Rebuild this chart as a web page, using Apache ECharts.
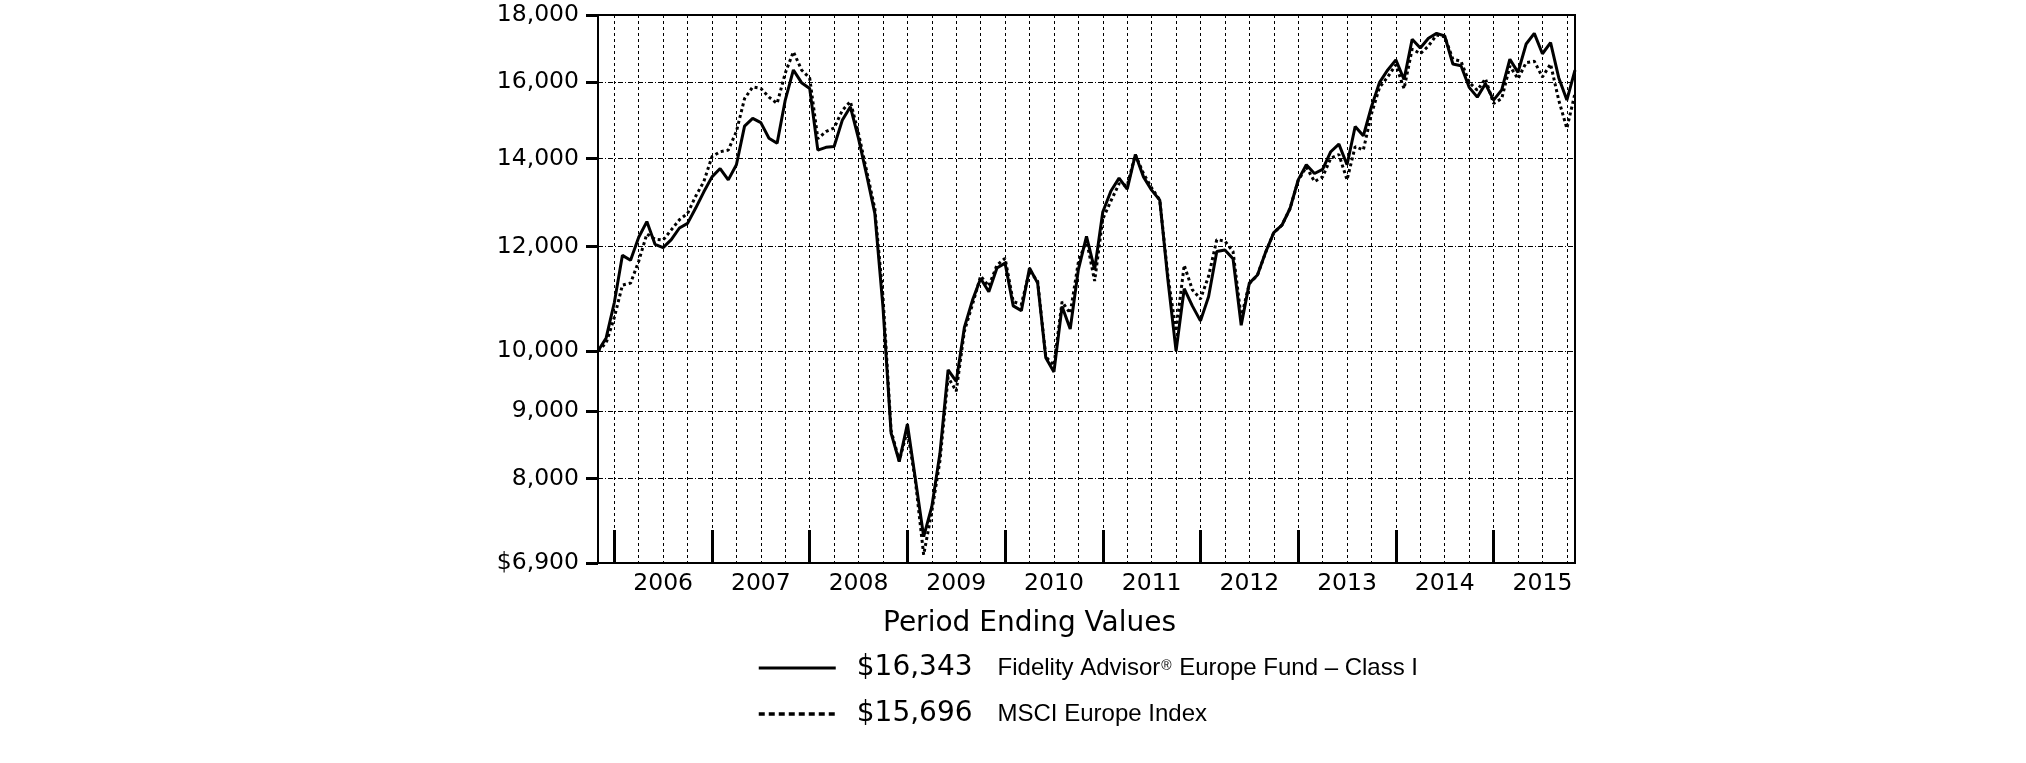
<!DOCTYPE html>
<html>
<head>
<meta charset="utf-8">
<script src="https://cdn.jsdelivr.net/npm/echarts@6/dist/echarts.min.js"></script>
<style>
html,body{margin:0;padding:0;background:#fff;}
#chart{width:2026px;height:763px;}
</style>
</head>
<body>
<div id="chart"></div>
<script>
// ---- DATA ----
// Monthly period ends, Oct 2005 .. Oct 2015 (121 points)
const startYear = 2005;
const startMonth = 10;
const monthCount = 121;
const categories = [];
for (let k = 0; k < monthCount; k++) {
  const m = startMonth - 1 + k;
  categories.push((startYear + Math.floor(m / 12)) + '-' + String(m % 12 + 1).padStart(2, '0'));
}

const fundName = 'Fidelity Advisor® Europe Fund – Class I';
const indexName = 'MSCI Europe Index';

const fundValues = [
  10000, 10230, 10880, 11820, 11720, 12200, 12540, 12050, 11980, 12150,
  12400, 12500, 12840, 13210, 13560, 13760, 13490, 13850, 14820, 15020,
  14910, 14510, 14380, 15510, 16350, 15990, 15830, 14210, 14280, 14300,
  14970, 15330, 14500, 13600, 12720, 10800, 8660, 8240, 8800, 7980,
  7225, 7615, 8360, 9673, 9480, 10420, 10930, 11350, 11090, 11560,
  11660, 10820, 10730, 11560, 11260, 9880, 9640, 10810, 10390, 11530,
  12220, 11530, 12750, 13230, 13530, 13270, 14100, 13560, 13250, 13020,
  11320, 10000, 11150, 10820, 10540, 11000, 11900, 11930, 11750, 10460,
  11260, 11420, 11884, 12300, 12460, 12830, 13490, 13850, 13640, 13740,
  14170, 14360, 13850, 14810, 14570, 15330, 16000, 16350, 16640, 16080,
  17250, 16990, 17280, 17430, 17350, 16520, 16470, 15860, 15590, 15960,
  15510, 15790, 16660, 16280, 17110, 17430, 16820, 17150, 16130, 15510,
  16343
];

const indexValues = [
  10000, 10140, 10600, 11220, 11260, 11700, 12270, 12160, 12140, 12360,
  12580, 12720, 13110, 13450, 14050, 14170, 14210, 14680, 15550, 15870,
  15830, 15590, 15420, 16260, 16880, 16350, 16120, 14500, 14680, 14770,
  15230, 15470, 14630, 13700, 12830, 11000, 8700, 8250, 8700, 7950,
  7000, 7550, 8250, 9550, 9320, 10350, 10850, 11400, 11200, 11620,
  11760, 10900, 10850, 11500, 11300, 9900, 9750, 10900, 10680, 11680,
  12140, 11300, 12600, 13000, 13400, 13350, 14100, 13640, 13300, 13020,
  11400, 10350, 11620, 11130, 10950, 11400, 12150, 12120, 11900, 10600,
  11250, 11420, 11880, 12300, 12460, 12830, 13470, 13800, 13450, 13560,
  14010, 14100, 13490, 14300, 14210, 15140, 15860, 16150, 16500, 15820,
  16960, 16820, 17050, 17380, 17330, 16660, 16600, 16000, 15780, 16100,
  15420, 15550, 16460, 16100, 16560, 16600, 16150, 16520, 15510, 14760,
  15696
];

const yTicks = [6900, 8000, 9000, 10000, 12000, 14000, 16000, 18000];
const yMin = 6900;
const yMax = 18000;
const titleText = 'Period Ending Values';

// ---- CHART ----
function fmtNum(v) {
  return Math.round(v).toLocaleString('en-US');
}
const lastFund = fundValues[fundValues.length - 1];
const lastIndex = indexValues[indexValues.length - 1];

const chart = echarts.init(document.getElementById('chart'), null, {renderer: 'canvas'});
const option = {
  animation: false,
  backgroundColor: '#ffffff',
  title: {
    text: titleText,
    left: 883,
    top: 610,
    padding: 0,
    textStyle: {fontFamily: 'DejaVu Sans', fontSize: 28, fontWeight: 'normal', color: '#000'}
  },
  legend: {
    orient: 'vertical',
    left: 757,
    top: 651,
    padding: 0,
    itemWidth: 77,
    itemHeight: 34,
    itemGap: 18,
    selectedMode: false,
    itemStyle: {opacity: 0, color: 'transparent', borderWidth: 0},
    data: [
      {name: fundName, lineStyle: {width: 3, type: 'solid', color: '#000', opacity: 1}},
      {name: indexName, lineStyle: {width: 3.5, type: [6, 4], color: '#000', opacity: 1}}
    ],
    formatter: function (name) {
      const last = name === fundName ? lastFund : lastIndex;
      const v = '{v|$' + fmtNum(last) + '}';
      if (name.indexOf('®') >= 0) {
        const p = name.split('®');
        return v + '{n|' + p[0] + '}{s|®}{m|' + p[1] + '}';
      }
      return v + '{n|' + name + '}';
    },
    textStyle: {
      color: '#000',
      rich: {
        v: {fontFamily: 'DejaVu Sans', fontSize: 28, color: '#000', lineHeight: 34, padding: [0, 0, 0, 16]},
        n: {fontFamily: 'Liberation Sans', fontSize: 24, color: '#000', lineHeight: 34, padding: [0, 0, 0, 25]},
        s: {fontFamily: 'Liberation Sans', fontSize: 14, color: '#000', lineHeight: 14, verticalAlign: 'top', padding: [8, 1, 0, 1]},
        m: {fontFamily: 'Liberation Sans', fontSize: 24, color: '#000', lineHeight: 34}
      }
    }
  },
  grid: {
    left: 598, top: 15, width: 977, height: 548,
    show: true, borderColor: '#000', borderWidth: 2, backgroundColor: 'transparent',
    outerBoundsMode: 'none'
  },
  xAxis: {
    type: 'category',
    data: categories,
    boundaryGap: false,
    axisLine: {show: true, lineStyle: {color: '#000', width: 2}},
    axisTick: {
      show: true, inside: true, length: 33,
      interval: function (i) { return i % 12 === 2; },
      lineStyle: {color: '#000', width: 3}
    },
    axisLabel: {
      interval: function (i) { return i % 12 === 8; },
      formatter: function (v) { return v.slice(0, 4); },
      margin: 9,
      fontFamily: 'DejaVu Sans', fontSize: 23.5, color: '#000'
    },
    splitLine: {
      show: true,
      interval: function (i) { return i % 3 === 2; },
      lineStyle: {color: '#000', width: 1, type: [3, 3]}
    }
  },
  yAxis: {
    type: 'log',
    logBase: 10,
    min: yMin,
    max: yMax,
    axisLine: {show: true, lineStyle: {color: '#000', width: 2}},
    axisTick: {show: true, length: 12, customValues: yTicks, lineStyle: {color: '#000', width: 3}},
    axisLabel: {
      customValues: yTicks,
      margin: 19,
      fontFamily: 'DejaVu Sans', fontSize: 23.5, color: '#000',
      formatter: function (v) {
        const r = Math.round(v);
        return (r === yMin ? '$' : '') + fmtNum(r);
      }
    },
    splitLine: {show: true, lineStyle: {color: '#000', width: 1, type: [5, 2, 1, 2]}}
  },
  series: [
    {
      name: indexName, type: 'line', data: indexValues, symbol: 'none',
      lineStyle: {color: '#000', width: 3, type: [3, 3]}, itemStyle: {color: '#000'}, z: 2
    },
    {
      name: fundName, type: 'line', data: fundValues, symbol: 'none',
      lineStyle: {color: '#000', width: 3}, itemStyle: {color: '#000'}, z: 3
    }
  ]
};
chart.setOption(option);
</script>
</body>
</html>
